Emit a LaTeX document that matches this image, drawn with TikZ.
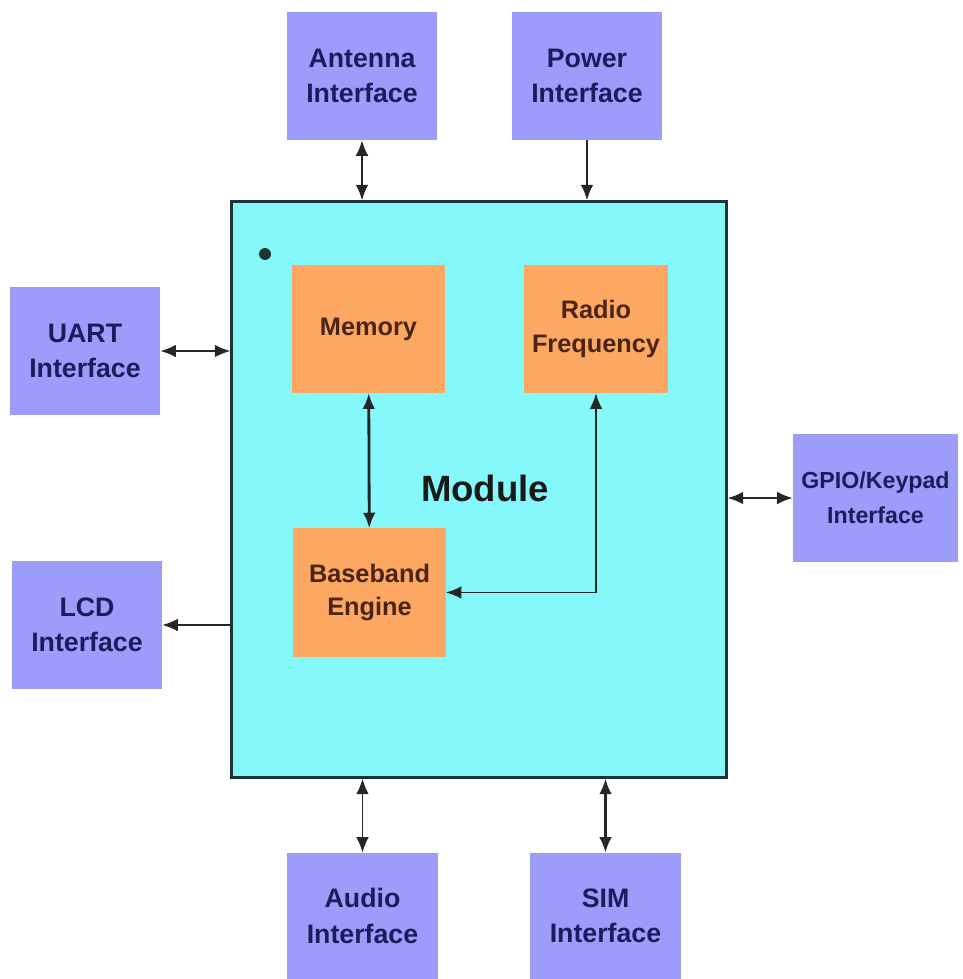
\documentclass[tikz,border=0pt]{standalone}
\usepackage{fontspec}
\setmainfont{Liberation Sans}
\usepackage{tikz}
\usetikzlibrary{arrows.meta}

\definecolor{ifblue}{HTML}{9C9CFA}
\definecolor{iftext}{HTML}{1C1C5C}
\definecolor{modcyan}{HTML}{84F8FA}
\definecolor{modline}{HTML}{1E3434}
\definecolor{blkorange}{HTML}{FCA862}
\definecolor{blktext}{HTML}{4A2414}

\tikzset{
    iface/.style={fill=ifblue, text=iftext, align=center, font=\fontsize{19}{25}\selectfont\bfseries,
        minimum width=3.75cm, minimum height=3.2cm, inner sep=0pt},
    block/.style={fill=blkorange, text=blktext, align=center, font=\fontsize{18}{24}\selectfont\bfseries,
        minimum width=3.8cm, minimum height=3.2cm, inner sep=0pt},
    link/.style={draw=black!85, line width=1.4pt, {Latex[length=11pt,width=9pt]}-{Latex[length=11pt,width=9pt]}},
    onelink/.style={draw=black!85, line width=1.4pt, -{Latex[length=11pt,width=9pt]}},
}

\begin{document}
\begin{tikzpicture}[x=0.025cm,y=-0.025cm]
                \useasboundingbox[fill=white] (0,0) rectangle (962,979);
                % module
                \node[draw=modline, line width=2.2pt, fill=modcyan, minimum width=12.35cm, minimum height=14.375cm] (module) at (479,489.5) {};
                \node[font=\fontsize{26}{30}\selectfont\bfseries, text=black!90] (modlabel) at (485,488) {Module};
                \fill[modline] (265,254) circle (6);
                % inner blocks
                \node[block] (memory) at (368.5,329) {Memory};
                \node[block, minimum width=3.6cm] (radio) at (596,329) {Radio\\Frequency};
                \node[block] (baseband) at (369.5,592.5) {Baseband\\Engine};
                % interfaces
                \node[iface] (antenna) at (362,76) {Antenna\\Interface};
                \node[iface] (power) at (587,76) {Power\\Interface};
                \node[iface] (uart) at (85,351) {UART\\Interface};
                \node[iface] (lcd) at (87,625) {LCD\\Interface};
                \node[iface, minimum width=4.125cm, font=\fontsize{16.5}{25}\selectfont\bfseries] (gpio) at (875.5,498) {GPIO/Keypad\\Interface};
                \node[iface, minimum height=3.15cm] (audio) at (362.5,916) {Audio\\Interface};
                \node[iface, minimum height=3.15cm] (sim) at (605.5,916) {SIM\\Interface};
                % connectors
                \draw[link] (antenna) -- (antenna |- module.north);
                \draw[onelink, line width=1.8pt] (power) -- (power |- module.north);
                \draw[link] (uart) -- (uart -| module.west);
                \draw[onelink] (lcd -| module.west) -- (lcd);
                \draw[link] (gpio) -- (gpio -| module.east);
                \draw[link] (audio) -- (audio |- module.south);
                \draw[link, line width=2pt] (sim) -- (sim |- module.south);
                \draw[link, line width=2pt] (memory) -- (baseband);
                \draw[link] (radio.south) |- (baseband.east);
\end{tikzpicture}
\end{document}
